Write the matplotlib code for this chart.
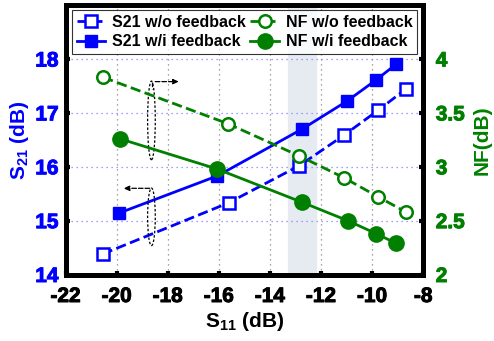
import matplotlib
matplotlib.use("Agg")
import matplotlib.pyplot as plt
import matplotlib.patheffects as pe
from matplotlib.patches import Ellipse

plt.rcParams['font.family'] = ['Liberation Sans', 'DejaVu Sans']
plt.rcParams['font.weight'] = 'bold'
plt.rcParams['mathtext.fontset'] = 'custom'
plt.rcParams['mathtext.rm'] = 'Liberation Sans:bold'
plt.rcParams['mathtext.default'] = 'rm'

# S21 data (left axis)
s11_s21_wo = [-20.55, -15.62, -12.85, -11.12, -9.76, -8.66]
s21_wo = [14.38, 15.33, 16.02, 16.58, 17.05, 17.45]
s11_s21_wi = [-19.91, -16.06, -12.74, -10.98, -9.85, -9.07]
s21_wi = [15.14, 15.83, 16.70, 17.22, 17.61, 17.90]

# NF data (right axis)
s11_nf_wo = [-20.53, -15.65, -12.85, -11.12, -9.76, -8.68]
nf_wo = [3.83, 3.40, 3.10, 2.90, 2.72, 2.58]
s11_nf_wi = [-19.88, -16.08, -12.74, -10.96, -9.85, -9.07]
nf_wi = [3.26, 2.98, 2.67, 2.50, 2.38, 2.29]

xticks = [-22, -20, -18, -16, -14, -12, -10, -8]
s21_ticks = [14, 15, 16, 17, 18]
nf_ticks = [2, 2.5, 3, 3.5, 4]
blue = '#0000ff'
green = '#007f00'

fig = plt.figure(figsize=(4.94, 3.41), dpi=100)
ax = fig.add_axes([0.1328, 0.195, 0.724, 0.79])
ax2 = ax.twinx()

ax.axvspan(-13.3, -12.2, color='#e6ebf2', zorder=0)
for x in xticks[1:-1]:
    ax.axvline(x, color='#888888', ls=(0, (1, 3)), lw=0.9, zorder=1)
for y in s21_ticks[1:]:
    ax.axhline(y, color='#8080ff', ls=(0, (1, 3)), lw=0.9, zorder=1)

l1, = ax.plot(s11_s21_wo, s21_wo, ls='--', color=blue, lw=2, marker='s',
              ms=8, mfc='white', mec=blue, mew=1.8, label='S21 w/o feedback')
l2, = ax.plot(s11_s21_wi, s21_wi, ls='-', color=blue, lw=2, marker='s',
              ms=9, mfc=blue, mec=blue, label='S21 w/i feedback')
l3, = ax2.plot(s11_nf_wo, nf_wo, ls='--', color=green, lw=2, marker='o',
               ms=9, mfc='white', mec=green, mew=1.8, label='NF w/o feedback')
l4, = ax2.plot(s11_nf_wi, nf_wi, ls='-', color=green, lw=2, marker='o',
               ms=11, mfc=green, mec=green, label='NF w/i feedback')

ax.set_xlim(-22, -8)
ax.set_ylim(14, 19)
ax2.set_ylim(2, 4.5)
ax.set_xticks(xticks)
ax.set_xticklabels([str(v) for v in xticks], fontsize=15, fontweight='bold')
ax.set_yticks(s21_ticks)
ax.set_yticklabels([str(v) for v in s21_ticks], fontsize=15, fontweight='bold')
ax2.set_yticks(nf_ticks)
ax2.set_yticklabels(['%g' % v for v in nf_ticks], fontsize=15, fontweight='bold')

ax.tick_params(axis='x', direction='in', length=3, width=3, pad=9)
ax.tick_params(axis='y', direction='in', length=3, width=3, labelcolor=blue, pad=5)
ax2.tick_params(axis='y', direction='in', length=3, width=3, labelcolor=green, pad=9)
for a in (ax, ax2):
    for s in a.spines.values():
        s.set_linewidth(3.5)

ax.set_xlabel('S$_{11}$ (dB)', fontsize=15, fontweight='bold', labelpad=3)
ax.set_ylabel('S$_{21}$ (dB)', fontsize=15, fontweight='bold', color=blue, labelpad=3)
ax2.set_ylabel('NF(dB)', fontsize=15, fontweight='bold', color=green, labelpad=6)

# thicken the text a little, the source is heavy bold
for lab in ax.get_xticklabels():
    lab.set_path_effects([pe.withStroke(linewidth=0.7, foreground='black')])
for lab in ax.get_yticklabels():
    lab.set_path_effects([pe.withStroke(linewidth=0.7, foreground=blue)])
for lab in ax2.get_yticklabels():
    lab.set_path_effects([pe.withStroke(linewidth=0.7, foreground=green)])

# annotations: ellipses with arrows
for yc, h in [(16.86, 1.46), (15.07, 1.07)]:
    ax.add_patch(Ellipse((-18.64, yc), 0.3, h, fill=False, ls=(0, (2, 1.5)),
                         lw=0.9, ec='black', zorder=5))
ax.annotate('', xy=(-17.45, 17.58), xytext=(-18.6, 17.58),
            arrowprops=dict(arrowstyle='-|>,head_length=0.35,head_width=0.15',
                            ls='--', lw=0.9, color='black'))
ax.plot([-18.6, -18.6], [17.58, 17.45], color='black', lw=0.9, ls='--')
ax.annotate('', xy=(-19.85, 15.6), xytext=(-18.6, 15.6),
            arrowprops=dict(arrowstyle='-|>,head_length=0.35,head_width=0.15',
                            ls='--', lw=0.9, color='black'))

leg = ax2.legend(handles=[l1, l2, l3, l4], ncol=2, loc='upper center',
                 bbox_to_anchor=(0.5, 1.0), prop={'size': 11.5, 'weight': 'bold'},
                 frameon=True, fancybox=False, edgecolor='black', borderpad=0.3,
                 handlelength=1.8, handletextpad=0.4, columnspacing=0.3,
                 labelspacing=0.3, borderaxespad=0.3)
leg.get_frame().set_linewidth(0.8)
ax2.set_zorder(ax.get_zorder() + 1)

fig.savefig('out.png', dpi=100)
